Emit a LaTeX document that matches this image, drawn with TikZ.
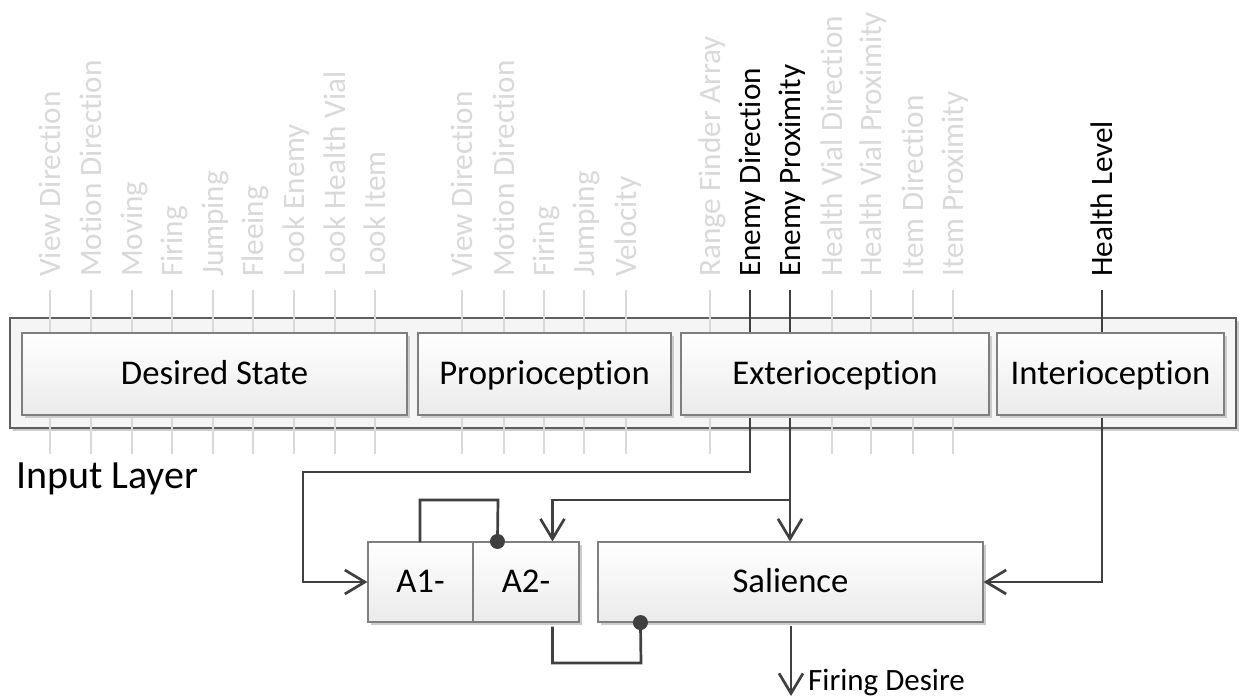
\documentclass[tikz,border=0pt]{standalone}
\usepackage{fontspec}
\setmainfont{Carlito}[Ligatures=NoCommon]
\usetikzlibrary{arrows.meta,shadows,calc}
\definecolor{dk}{HTML}{404040}
\definecolor{lt}{HTML}{D9D9D9}
\definecolor{bd}{HTML}{7F7F7F}
\definecolor{ob}{HTML}{5F5F5F}
\begin{document}
\begin{tikzpicture}[x=1pt,y=-1pt,
  shad/.style={drop shadow={shadow xshift=3pt,shadow yshift=-3pt,fill=black!20,opacity=1}},
  box/.style={shad,draw=bd,line width=1.1pt,top color=white,bottom color=black!8,
    inner sep=0pt,text height=20pt,text depth=0pt,font=\fontsize{34.7}{40}\selectfont},
  outerbox/.style={shad,draw=ob,line width=1.1pt,fill=black!4,inner sep=0pt},
  lab/.style={rotate=90,anchor=base west,inner sep=0pt,font=\fontsize{31.2}{36}\selectfont},
  ltlab/.style={lab,text=lt},
  tick/.style={draw=lt,line width=1.5pt},
  conn/.style={draw=dk,line width=2.7pt},
  barb/.style={-{Straight Barb[length=20pt,width=24pt]}},
  dot/.style={fill=dk}
]
\useasboundingbox (0,0) rectangle (1239,697);
\fill[white] (0,0) rectangle (1239,697);

% outer input layer box
\node[outerbox,minimum width=1226pt,minimum height=110pt] (il) at (623,373) {};
\node[anchor=base west,inner sep=0pt,font=\fontsize{40}{46}\selectfont] (iltext) at (16,488) {Input Layer};

% lower boxes
\node[box,minimum width=105pt,minimum height=80pt] (a1) at (420.5,582) {A1-};
\node[box,minimum width=106pt,minimum height=80pt] (a2) at (526,582) {A2-};
\node[box,minimum width=385pt,minimum height=80pt] (sal) at (790.5,582) {Salience};

% light ticks and labels
\foreach \x/\t/\n in {50/View Direction/l1, 91/Motion Direction/l2, 132/Moving/l3,
    172/Firing/l4, 213/Jumping/l5, 253/Fleeing/l6, 294/Look Enemy/l7,
    335/Look Health Vial/l8, 375/Look Item/l9, 462/View Direction/l10,
    504/Motion Direction/l11, 544/Firing/l12, 584/Jumping/l13, 626/Velocity/l14,
    710/Range Finder Array/l15, 832/Health Vial Direction/l16,
    871/Health Vial Proximity/l17, 913/Item Direction/l18, 953/Item Proximity/l19}{
  \node[ltlab] (\n) at (\x+10,277) {\t};
  \coordinate (\n t) at (\x,290);
  \coordinate (\n b) at (\x,454);
  \draw[tick] (\n t) -- (\n b);
}

% dark labels
\node[lab] (ed) at (760,277) {Enemy Direction};
\node[lab] (ep) at (800,277) {Enemy Proximity};
\node[lab] (hl) at (1112,277) {Health Level};
\coordinate (edT) at (750,290);
\coordinate (epT) at (790,290);
\coordinate (hlT) at (1102,290);

% connectors
\draw[conn,barb] (edT) |- (303,472) |- (a1.west);
\draw[conn,barb] (epT) -- (epT |- sal.north);
\coordinate (br) at (790,500);
\coordinate (a2in) at ($(a2.north west)+(80,0)$);
\draw[conn,barb] (br) -| (a2in);
\coordinate (a1out) at (420,542);
\coordinate (a2dot) at ($(a2.north west)+(25,0)$);
\draw[conn] (a1out) |- (498,500) -- (a2dot);
\fill[dot] (a2dot) circle (7.5);
\coordinate (a2out) at ($(a2.south west)+(80,4)$);
\coordinate (saldot) at ($(sal.south west)+(43,0)$);
\draw[conn] (a2out) |- (641,663) -- (saldot);
\fill[dot] (saldot) circle (7.5);
\draw[conn,barb] (hlT) |- (sal.east);
\coordinate (salout) at (791,626);
\coordinate (fd) at (791,696);
\draw[conn,barb] (salout) -- (fd);
\node[anchor=base west,inner sep=0pt,font=\fontsize{31}{36}\selectfont] (fdl) at (808,690) {Firing Desire};

% inner boxes on top of lines
\node[box,minimum width=385pt,minimum height=82pt] (ds) at (214.5,374) {Desired State};
\node[box,minimum width=253pt,minimum height=82pt] (pro) at (544.5,374) {Proprioception};
\node[box,minimum width=308pt,minimum height=82pt] (ext) at (835,374) {Exterioception};
\node[box,minimum width=227pt,minimum height=82pt] (int) at (1110.5,374) {Interioception};
\end{tikzpicture}
\end{document}
